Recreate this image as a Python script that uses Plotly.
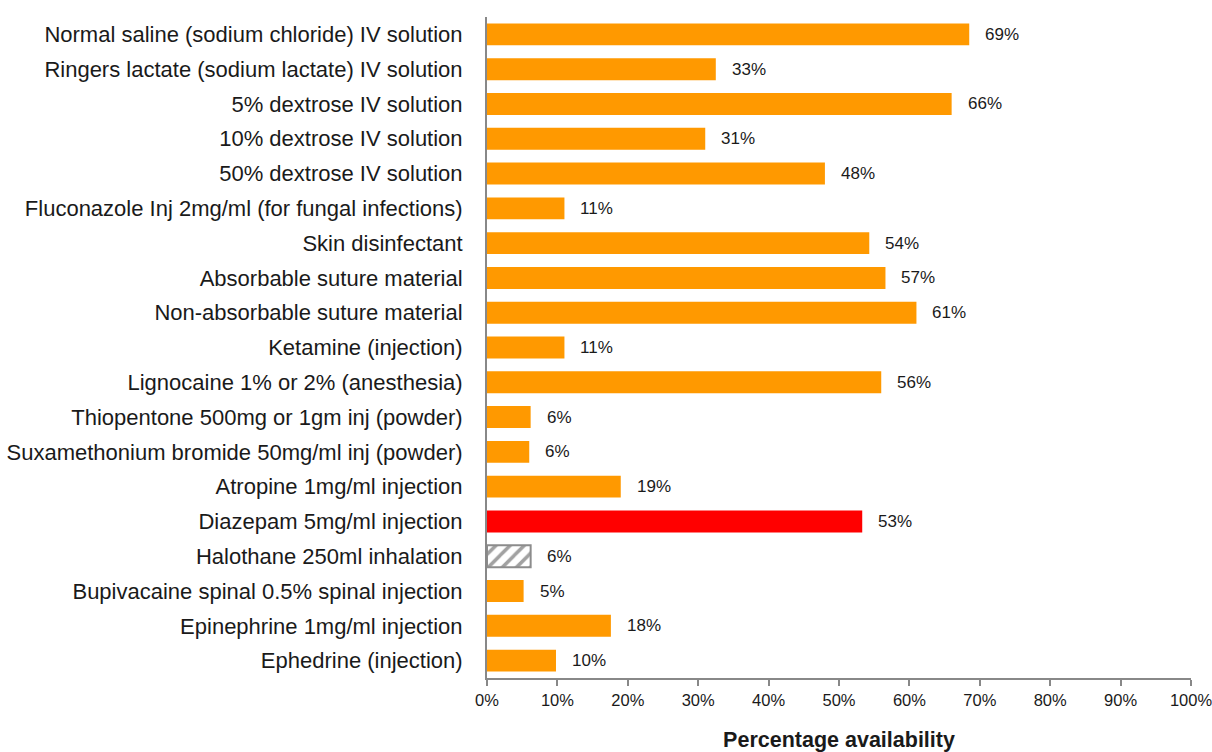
import plotly.graph_objects as go

categories = [
    "Normal saline (sodium chloride) IV solution",
    "Ringers lactate (sodium lactate) IV solution",
    "5% dextrose IV solution",
    "10% dextrose IV solution",
    "50% dextrose IV solution",
    "Fluconazole Inj 2mg/ml (for fungal infections)",
    "Skin disinfectant",
    "Absorbable suture material",
    "Non-absorbable suture material",
    "Ketamine (injection)",
    "Lignocaine 1% or 2% (anesthesia)",
    "Thiopentone 500mg or 1gm inj (powder)",
    "Suxamethonium bromide 50mg/ml inj (powder)",
    "Atropine 1mg/ml injection",
    "Diazepam 5mg/ml injection",
    "Halothane 250ml inhalation",
    "Bupivacaine spinal 0.5% spinal injection",
    "Epinephrine 1mg/ml injection",
    "Ephedrine (injection)",
]
values = [68.5, 32.5, 66, 31, 48, 11, 54.3, 56.6, 61, 11, 56, 6.2, 6, 19, 53.3, 6.2, 5.2, 17.6, 9.8]
labels = ["69%", "33%", "66%", "31%", "48%", "11%", "54%", "57%", "61%", "11%",
          "56%", "6%", "6%", "19%", "53%", "6%", "5%", "18%", "10%"]
tick_vals = [0, 10, 20, 30, 40, 50, 60, 70, 80, 90, 100]
tick_text = ["0%", "10%", "20%", "30%", "40%", "50%", "60%", "70%", "80%", "90%", "100%"]

FONT = "Liberation Sans, Arial, sans-serif"
ORANGE = "#FF9900"
RED = "#FF0000"
GREY = "#8c8c8c"
colors, patterns, line_colors, line_widths = [], [], [], []
for c in categories:
    if c.startswith("Diazepam"):
        colors.append(RED); patterns.append(""); line_colors.append(RED); line_widths.append(0)
    elif c.startswith("Halothane"):
        colors.append("white"); patterns.append("/"); line_colors.append(GREY); line_widths.append(2)
    else:
        colors.append(ORANGE); patterns.append(""); line_colors.append(ORANGE); line_widths.append(0)

fig = go.Figure()
fig.add_trace(go.Bar(
    y=categories, x=values, orientation="h",
    marker=dict(
        color=colors,
        line=dict(color=line_colors, width=line_widths),
        pattern=dict(shape=patterns, fgcolor=GREY, bgcolor="white", size=10, solidity=0.35),
    ),
    width=0.63,
    hoverinfo="skip",
))

for c, v, t in zip(categories, values, labels):
    fig.add_annotation(x=v, y=c, text=t, showarrow=False, xanchor="left", xshift=14,
                       font=dict(family=FONT, size=17, color="#1a1a1a"))

fig.update_layout(
    width=1212, height=752,
    margin=dict(l=487, r=21, t=17, b=74),
    paper_bgcolor="white", plot_bgcolor="white",
    showlegend=False,
    font=dict(family=FONT, color="#1a1a1a"),
)
fig.update_xaxes(
    range=[0, 100], tickvals=tick_vals, ticktext=tick_text,
    showgrid=False, zeroline=False, automargin=False, ticklabeloverflow="allow",
    showline=True, linecolor="#888888", linewidth=2,
    ticks="outside", ticklen=6, tickcolor="#888888", tickwidth=2,
    tickfont=dict(family=FONT, size=16.5, color="#1a1a1a"),
    title=dict(text="<b>Percentage availability</b>", font=dict(family=FONT, size=21.5, color="#1a1a1a"), standoff=26),
)
fig.update_yaxes(
    autorange="reversed", showgrid=False, zeroline=False, automargin=False,
    showline=True, linecolor="#888888", linewidth=2,
    ticks="", ticklabelstandoff=18,
    tickfont=dict(family=FONT, size=22, color="#1a1a1a"),
)
fig.write_html("out.html", config={"displayModeBar": False},
               post_script="document.body.style.margin='0';document.body.style.overflow='hidden';")
